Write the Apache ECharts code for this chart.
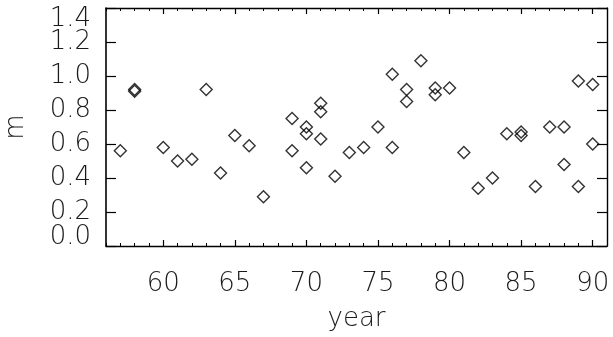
<!DOCTYPE html>
<html>
<head>
<meta charset="utf-8">
<script src="https://cdn.jsdelivr.net/npm/echarts@6/dist/echarts.min.js"></script>
<style>
  html, body { margin: 0; padding: 0; background: #fff; }
  #chart { width: 613px; height: 337px; }
</style>
</head>
<body>
<div id="chart"></div>
<script>
// Yearly values of m (several years carry more than one measurement)
const years  = [57, 58, 58, 60, 61, 62, 63, 64, 65, 66, 67, 69, 69, 70, 70, 70, 71, 71, 71, 72, 73, 74, 75, 76, 76, 77, 77, 78, 79, 79, 80, 81, 82, 83, 84, 85, 85, 86, 87, 88, 88, 89, 89, 90, 90];
const mValues = [0.56, 0.92, 0.91, 0.58, 0.50, 0.51, 0.92, 0.43, 0.65, 0.59, 0.29, 0.75, 0.56, 0.70, 0.66, 0.46, 0.84, 0.79, 0.63, 0.41, 0.55, 0.58, 0.70, 1.01, 0.58, 0.92, 0.85, 1.09, 0.93, 0.89, 0.93, 0.55, 0.34, 0.40, 0.66, 0.67, 0.65, 0.35, 0.70, 0.70, 0.48, 0.97, 0.35, 0.95, 0.60];

// Axis ranges and tick positions
const xRange = [56, 91];
const xMajorTicks = [60, 65, 70, 75, 80, 85, 90];
const xMinorStep = 1;
const yRange = [0, 1.4];
const yStep = 0.2;
const yInnerLabels = [0.2, 0.4, 0.6, 0.8, 1.0, 1.2];

const points = years.map((y, i) => [y, mValues[i]]);

const FONT = '"DejaVu Sans", sans-serif';
const black = '#000';
const textColor = '#1a1a1a';
const lineStyle = { color: black, width: 1.4 };
const labelFont = { fontFamily: FONT, fontSize: 26, fontWeight: 200, color: textColor };

function xAxisLayer(position, opts) {
  return Object.assign({
    type: 'value',
    position: position,
    min: xRange[0],
    max: xRange[1],
    splitLine: { show: false },
    axisLine: { show: false, onZero: false },
    axisLabel: { show: false },
    axisTick: { show: false }
  }, opts);
}

function yAxisLayer(position, opts) {
  return Object.assign({
    type: 'value',
    position: position,
    min: yRange[0],
    max: yRange[1],
    interval: yStep,
    splitLine: { show: false },
    axisLine: { show: false, onZero: false },
    axisLabel: { show: false },
    axisTick: { show: false }
  }, opts);
}

// y tick labels; the end labels sit inside the axis span
function yLabels(values, vAlign, pad) {
  return Object.assign({
    show: true,
    customValues: values,
    margin: 15,
    hideOverlap: false,
    lineHeight: 18,
    padding: pad,
    verticalAlign: vAlign,
    formatter: v => v.toFixed(1)
  }, labelFont);
}

const option = {
  animation: false,
  backgroundColor: '#fff',
  grid: { left: 106, right: 6, top: 8, bottom: 91, containLabel: false, outerBoundsMode: 'none' },
  xAxis: [
    // bottom axis: line, labels and major ticks
    xAxisLayer('bottom', {
      name: 'year',
      nameLocation: 'middle',
      nameGap: 60,
      nameTextStyle: labelFont,
      axisLine: { show: true, onZero: false, lineStyle: lineStyle },
      axisTick: { show: true, inside: true, length: 6, customValues: xMajorTicks, lineStyle: { color: black, width: 1.2 } },
      axisLabel: Object.assign({ show: true, customValues: xMajorTicks, margin: 25 }, labelFont)
    }),
    // bottom axis: yearly minor ticks
    xAxisLayer('bottom', {
      interval: xMinorStep,
      axisTick: { show: true, inside: true, length: 3, lineStyle: { color: black, width: 1 } }
    }),
    // top frame with major ticks
    xAxisLayer('top', {
      axisLine: { show: true, onZero: false, lineStyle: lineStyle },
      axisTick: { show: true, inside: true, length: 6, customValues: xMajorTicks, lineStyle: { color: black, width: 1.2 } }
    }),
    // top frame: yearly minor ticks
    xAxisLayer('top', {
      interval: xMinorStep,
      axisTick: { show: true, inside: true, length: 3, lineStyle: { color: black, width: 1 } }
    })
  ],
  yAxis: [
    // left axis: line, ticks, inner labels
    yAxisLayer('left', {
      name: 'm',
      nameLocation: 'middle',
      nameGap: 77,
      nameTextStyle: labelFont,
      axisLine: { show: true, onZero: false, lineStyle: { color: black, width: 1.6 } },
      axisTick: { show: true, inside: true, length: 10, lineStyle: { color: black, width: 1.2 } },
      axisLabel: yLabels(yInnerLabels, 'middle', [6, 0, 0, 0])
    }),
    // left axis: bottom end label
    yAxisLayer('left', { axisLabel: yLabels([yRange[0]], 'bottom', 0) }),
    // left axis: top end label
    yAxisLayer('left', { axisLabel: yLabels([yRange[1]], 'top', [2, 0, 0, 0]) }),
    // right frame
    yAxisLayer('right', {
      axisLine: { show: true, onZero: false, lineStyle: lineStyle },
      axisTick: { show: true, inside: true, length: 10, lineStyle: { color: black, width: 1.2 } }
    })
  ],
  series: [
    {
      type: 'scatter',
      xAxisIndex: 0,
      yAxisIndex: 0,
      data: points,
      symbol: 'diamond',
      symbolSize: 12,
      itemStyle: { color: 'rgba(0,0,0,0)', borderColor: black, borderWidth: 1.4 },
      emphasis: { disabled: true }
    }
  ]
};

const chart = echarts.init(document.getElementById('chart'), null, { renderer: 'canvas' });
chart.setOption(option);
</script>
</body>
</html>
